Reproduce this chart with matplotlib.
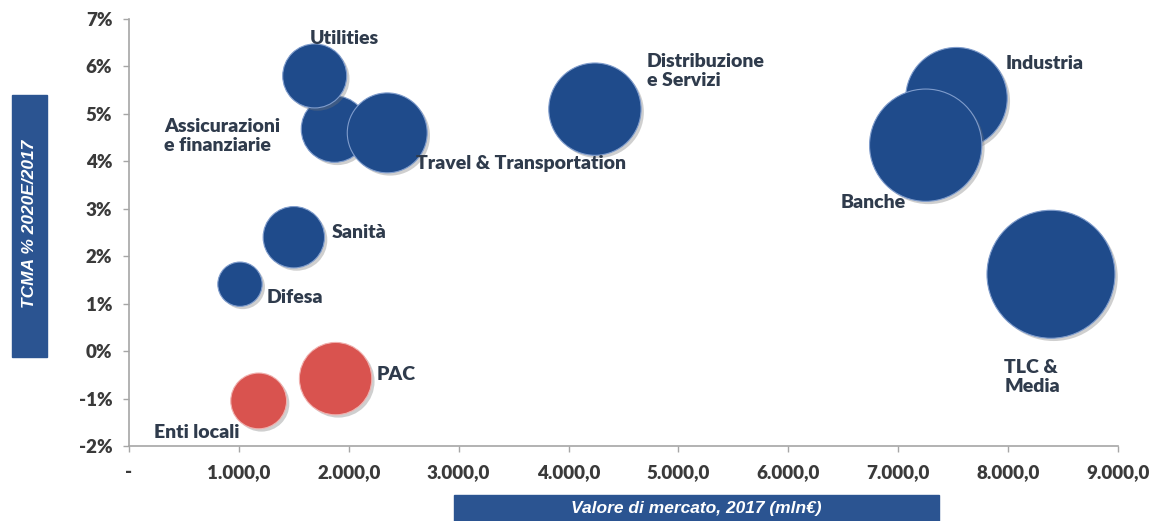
import matplotlib
matplotlib.use("Agg")
import matplotlib.pyplot as plt
import matplotlib.patheffects as pe
from matplotlib.patches import Rectangle
from matplotlib.ticker import FixedLocator, FuncFormatter

# settori: valore di mercato 2017 (mln EUR), TCMA 2020E/2017 (%), peso bolla
settori = ["Assicurazioni\ne finanziarie", "Utilities", "Travel & Transportation",
           "Distribuzione\ne Servizi", "Industria", "Banche", "TLC &\nMedia",
           "Sanità", "Difesa", "PAC", "Enti locali"]
valore = [1870, 1690, 2350, 4240, 7530, 7250, 8390, 1500, 1010, 1880, 1180]
tcma = [4.68, 5.80, 4.60, 5.10, 5.33, 4.34, 1.62, 2.40, 1.41, -0.58, -1.05]
peso = [27, 25, 39, 52, 63, 77, 100, 23, 12, 32, 19]
negativo = [False] * 9 + [True, True]

# posizione delle etichette (x, y, allineamento)
etichette_pos = [(320, 4.53, "left"), (1960, 6.58, "center"), (2610, 3.96, "left"),
                 (4710, 5.90, "left"), (7975, 6.07, "left"), (6475, 3.14, "left"),
                 (7965, -0.55, "left"), (1840, 2.51, "left"), (1250, 1.14, "left"),
                 (2250, -0.50, "left"), (230, -1.71, "left")]

BLU = "#1f4b8b"
ROSSO = "#d9534f"
TESTO = "#2f3b4c"
FONT = "Lato"

fig = plt.figure(figsize=(11.54, 5.21), dpi=100)
ax = fig.add_axes([129 / 1154, 75 / 521, 989 / 1154, 427 / 521])

scala = (1.44 * 64) ** 2 / 100
for i in range(len(settori)):
    colore = ROSSO if negativo[i] else BLU
    bordo = "#f0b0ae" if negativo[i] else "#7f9ccc"
    ax.scatter(valore[i], tcma[i], s=peso[i] * scala, color=colore,
               edgecolors=bordo, linewidths=0.8, zorder=3 + i,
               path_effects=[pe.SimplePatchShadow(offset=(2, -2), shadow_rgbFace="#777777", alpha=0.35),
                             pe.Normal()])

for nome, (x, y, ha) in zip(settori, etichette_pos):
    ax.text(x, y, nome, ha=ha, va="center", fontsize=14, fontweight="heavy",
            color=TESTO, family=FONT, linespacing=1.12, zorder=20)

ax.set_xlim(0, 9000)
ax.set_ylim(-2, 7)
ax.xaxis.set_major_locator(FixedLocator(range(0, 9001, 1000)))
ax.yaxis.set_major_locator(FixedLocator(range(-2, 8)))


def fmt_x(v, pos):
    if v == 0:
        return "-"
    return f"{v:,.1f}".replace(",", "X").replace(".", ",").replace("X", ".")


ax.xaxis.set_major_formatter(FuncFormatter(fmt_x))
ax.yaxis.set_major_formatter(FuncFormatter(lambda v, pos: f"{v:.0f}%"))

for lato in ["top", "right"]:
    ax.spines[lato].set_visible(False)
for lato in ["left", "bottom"]:
    ax.spines[lato].set_color("#a6a6a6")
    ax.spines[lato].set_linewidth(1.2)

ax.tick_params(axis="both", direction="out", length=4, width=1, color="#a6a6a6",
               labelsize=13.5, labelcolor="#3a3a3a")
ax.tick_params(axis="x", pad=9)
ax.tick_params(axis="y", pad=8)
for lab in ax.get_xticklabels() + ax.get_yticklabels():
    lab.set_fontweight("heavy")
    lab.set_family(FONT)

# riquadri dei titoli degli assi
fig.patches.append(Rectangle((12 / 1154, 1 - 357 / 521), 35 / 1154, 262 / 521,
                             transform=fig.transFigure, color="#2b5491", zorder=0))
fig.text(29.5 / 1154, 1 - 224 / 521, "TCMA % 2020E/2017", rotation=90, ha="center",
         va="center", color="white", fontsize=12.5, fontweight="bold", style="italic",
         family="Liberation Sans")
fig.patches.append(Rectangle((454 / 1154, 0), 485 / 1154, 26 / 521,
                             transform=fig.transFigure, color="#2b5491", zorder=0))
fig.text(696 / 1154, 13 / 521, "Valore di mercato, 2017 (mln€)", ha="center",
         va="center", color="white", fontsize=12.5, fontweight="bold", style="italic",
         family="Liberation Sans")

fig.savefig("out.png", dpi=100)
